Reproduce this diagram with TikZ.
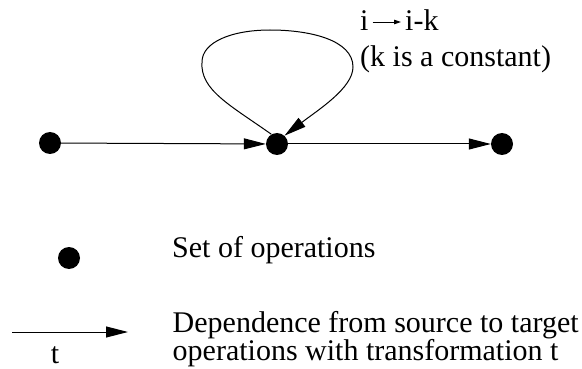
\documentclass[tikz,border=0pt]{standalone}
\usepackage{fontspec}
\setmainfont{Liberation Serif}
\usetikzlibrary{arrows.meta}
\begin{document}
\begin{tikzpicture}[x=1pt,y=-1pt,
  opdot/.style={circle,fill=black,draw=none,inner sep=0pt,minimum size=22pt},
  dep/.style={line width=1pt,-{Triangle[length=22pt,width=11pt]}},
  maparrow/.style={line width=0.9pt,-{Triangle[length=7pt,width=4.5pt]}},
  lbl/.style={inner sep=0pt,anchor=base west,font=\fontsize{30}{34}\selectfont},
  tlbl/.style={inner sep=0pt,anchor=base,font=\fontsize{30}{34}\selectfont}]
\useasboundingbox (0,0) rectangle (582,369);

% operation sets and their dependences
\node[opdot] (a) at (50,143) {};
\node[opdot] (b) at (277,144) {};
\node[opdot] (c) at (502,144) {};
\draw[dep] (a) -- (b);
\draw[dep] (b) -- (c);

% self dependence of the middle set
\draw[dep] (b.120) .. controls (230,105) and (200,90) .. (202,62)
  .. controls (202,42) and (232,30) .. (270,30)
  .. controls (310,30) and (353,40) .. (353,67)
  .. controls (353,88) and (318,110) .. (b.48);

% its transformation i -> i-k
\node[lbl] (ifrom) at (360,31) {i};
\node[lbl] (ito) at (405,31) {i-k};
\draw[maparrow] ([shift={(4,-9)}]ifrom.base east) -- ([shift={(-4,-9)}]ito.base west);
\node[lbl] (const) at (360,66.5) {(k is a constant)};

% legend
\node[opdot] (ldot) at (69,258) {};
\node[lbl] (ldottxt) at (172,257) {Set of operations};
\coordinate (ls) at (12,332);
\coordinate (le) at (128,332);
\draw[dep] (ls) -- (le);
\node[tlbl] (lt) at (55,363) {t};
\node[lbl] (ldep1) at (172.5,332.5) {Dependence from source to target};
\node[lbl] (ldep2) at (172.5,360) {operations with transformation t};
\end{tikzpicture}
\end{document}
